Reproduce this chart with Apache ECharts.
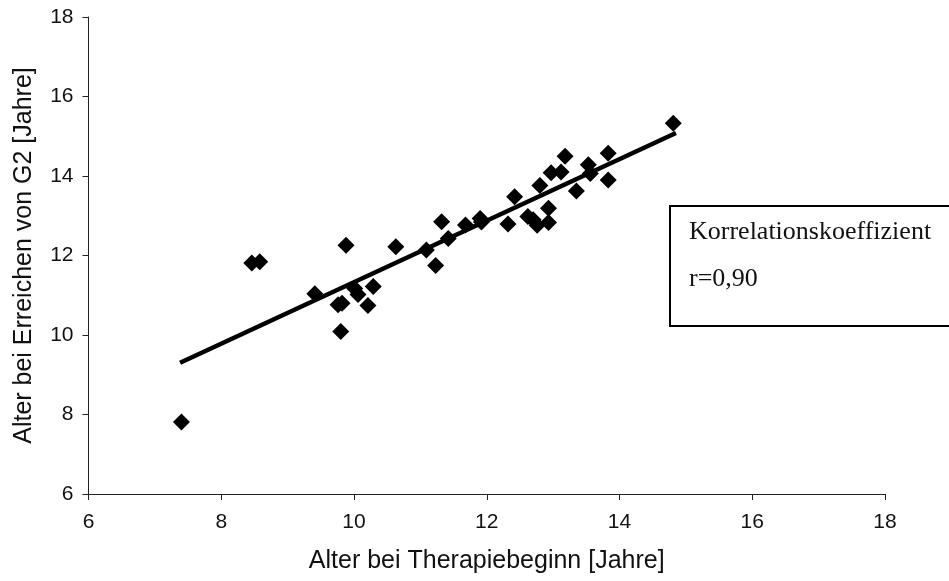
<!DOCTYPE html>
<html>
<head>
<meta charset="utf-8">
<script src="https://cdn.jsdelivr.net/npm/echarts@6/dist/echarts.min.js"></script>
<style>html,body{margin:0;padding:0;background:#fff}#c{width:949px;height:581px}</style>
</head>
<body>
<div id="c"></div>
<script>
// Data
var therapyStart = [7.40, 8.46, 8.58, 9.41, 9.80, 9.76, 9.82, 9.88, 10.01, 10.06, 10.21, 10.29, 10.63, 11.09, 11.23, 11.32, 11.42, 11.68, 11.90, 11.92, 12.32, 12.42, 12.62, 12.70, 12.76, 12.80, 12.93, 12.93, 12.97, 13.12, 13.18, 13.35, 13.53, 13.56, 13.83, 13.83, 14.81];
var ageG2 = [7.81, 11.81, 11.84, 11.04, 10.09, 10.76, 10.80, 12.26, 11.17, 11.02, 10.74, 11.22, 12.22, 12.14, 11.75, 12.85, 12.43, 12.77, 12.93, 12.84, 12.79, 13.48, 12.98, 12.90, 12.76, 13.76, 13.19, 12.83, 14.08, 14.10, 14.50, 13.62, 14.28, 14.06, 14.57, 13.90, 15.33];
var trendX = [7.38, 14.85];
var trendY = [9.30, 15.08];
var xTicks = [6, 8, 10, 12, 14, 16, 18];
var yTicks = [6, 8, 10, 12, 14, 16, 18];
var xTitle = 'Alter bei Therapiebeginn [Jahre]';
var yTitle = 'Alter bei Erreichen von G2 [Jahre]';
var boxLines = ['Korrelationskoeffizient', 'r=0,90'];

var points = therapyStart.map(function (x, i) { return [x, ageG2[i]]; });
var trend = trendX.map(function (x, i) { return [x, trendY[i]]; });

var chart = echarts.init(document.getElementById('c'), null, {renderer: 'canvas'});
var sans = '"Liberation Sans", Arial, sans-serif';
var serif = '"Liberation Serif", "Times New Roman", serif';
chart.setOption({
  animation: false,
  backgroundColor: '#fff',
  grid: {left: 88.5, right: 64, top: 17, bottom: 87, containLabel: false},
  xAxis: {
    type: 'value', min: xTicks[0], max: xTicks[xTicks.length - 1], interval: 2,
    name: xTitle, nameLocation: 'middle', nameGap: 55,
    nameTextStyle: {fontFamily: sans, fontSize: 25, color: '#111'},
    axisLine: {show: true, onZero: false, lineStyle: {color: '#222', width: 1}},
    axisTick: {show: true, inside: false, length: 6, lineStyle: {color: '#222'}},
    axisLabel: {fontFamily: sans, fontSize: 21, color: '#111', margin: 18},
    splitLine: {show: false}
  },
  yAxis: {
    type: 'value', min: yTicks[0], max: yTicks[yTicks.length - 1], interval: 2,
    name: yTitle, nameLocation: 'middle', nameGap: 52, nameRotate: 90,
    nameTextStyle: {fontFamily: sans, fontSize: 25, color: '#111'},
    axisLine: {show: true, onZero: false, lineStyle: {color: '#222', width: 1}},
    axisTick: {show: true, inside: false, length: 6, lineStyle: {color: '#222'}},
    axisLabel: {fontFamily: sans, fontSize: 21, color: '#111', margin: 15},
    splitLine: {show: false}
  },
  series: [
    {
      type: 'line', data: trend, symbol: 'none', z: 2,
      lineStyle: {color: '#000', width: 4.5}
    },
    {
      type: 'scatter', data: points, symbol: 'diamond', symbolSize: 17, z: 3,
      itemStyle: {color: '#000', opacity: 1}
    }
  ],
  graphic: [
    {type: 'rect', left: 669, top: 205, z: 10,
     shape: {x: 0, y: 0, width: 300, height: 120},
     style: {fill: '#fff', stroke: '#000', lineWidth: 2}},
    {type: 'text', left: 689, top: 219, z: 11,
     style: {text: boxLines[0], font: '26px ' + serif, fill: '#111'}},
    {type: 'text', left: 689, top: 266, z: 11,
     style: {text: boxLines[1], font: '26px ' + serif, fill: '#111'}}
  ]
});
</script>
</body>
</html>
